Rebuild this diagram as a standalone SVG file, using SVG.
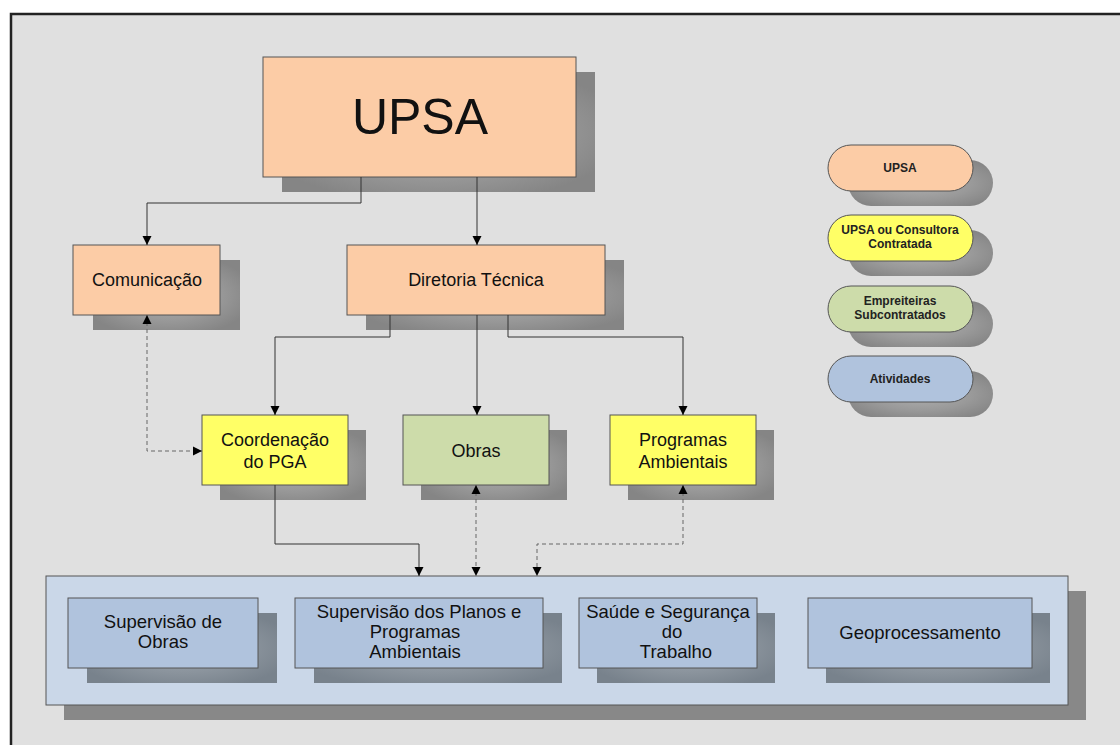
<svg xmlns="http://www.w3.org/2000/svg" width="1120" height="745" viewBox="0 0 1120 745">
<defs>
<radialGradient id="sh" cx="0.5" cy="0.5" r="0.6">
<stop offset="0" stop-color="#b0b0b0"/>
<stop offset="0.6" stop-color="#999"/>
<stop offset="1" stop-color="#858585"/>
</radialGradient>
<radialGradient id="shb" cx="0.5" cy="0.5" r="0.6">
<stop offset="0" stop-color="#a3abb4"/>
<stop offset="0.6" stop-color="#8a939c"/>
<stop offset="1" stop-color="#78828c"/>
</radialGradient>
<marker id="ah" markerWidth="10" markerHeight="10" refX="9" refY="5" orient="auto" markerUnits="userSpaceOnUse">
<path d="M0,0.5 L9,5 L0,9.5 Z" fill="#000"/>
</marker>
<marker id="as" markerWidth="10" markerHeight="10" refX="0" refY="5" orient="auto" markerUnits="userSpaceOnUse">
<path d="M9,0.5 L0,5 L9,9.5 Z" fill="#000"/>
</marker>
</defs>
<style>
.box{stroke:#555;stroke-width:1}
.peach{fill:#fccca6}
.yel{fill:#ffff66}
.grn{fill:#cddcaa}
.blu{fill:#b0c3dd}
.sh{fill:url(#sh)}
.shb{fill:url(#shb)}
.t{font-family:"Liberation Sans",Arial,sans-serif;font-size:18px;fill:#111;text-anchor:middle}
.tb{font-family:"Liberation Sans",Arial,sans-serif;font-size:18.5px;fill:#111;text-anchor:middle}
.lg{font-family:"Liberation Sans",Arial,sans-serif;font-size:12px;font-weight:bold;fill:#222;text-anchor:middle}
.ln{fill:none;stroke:#333;stroke-width:1}
.dl{fill:none;stroke:#666;stroke-width:1;stroke-dasharray:4,3}
</style>
<rect x="0" y="0" width="1120" height="745" fill="#fff"/>
<rect x="11" y="14" width="1120" height="740" fill="#e0e0e0" stroke="#222" stroke-width="2.5"/>

<g id="upsa">
<rect class="sh" x="282" y="72" width="313" height="120"/>
<rect class="box peach" x="263" y="57" width="313" height="120"/>
<text x="420" y="134" class="t" style="font-size:50px">UPSA</text>
</g>
<g id="comunicacao">
<rect class="sh" x="93" y="260" width="147" height="70"/>
<rect class="box peach" x="73" y="245" width="147" height="70"/>
<text x="147" y="286" class="t">Comunicação</text>
</g>
<g id="diretoria">
<rect class="sh" x="366" y="260" width="258" height="70"/>
<rect class="box peach" x="347" y="245" width="258" height="70"/>
<text x="476" y="286" class="t">Diretoria Técnica</text>
</g>
<g id="coordenacao">
<rect class="sh" x="220" y="430" width="146" height="70"/>
<rect class="box yel" x="202" y="415" width="146" height="70"/>
<text x="275" y="446" class="t">Coordenação</text>
<text x="275" y="468" class="t">do PGA</text>
</g>
<g id="obras">
<rect class="sh" x="421" y="430" width="146" height="70"/>
<rect class="box grn" x="403" y="415" width="146" height="70"/>
<text x="476" y="457" class="t">Obras</text>
</g>
<g id="programas">
<rect class="sh" x="628" y="430" width="146" height="70"/>
<rect class="box yel" x="610" y="415" width="146" height="70"/>
<text x="683" y="446" class="t">Programas</text>
<text x="683" y="468" class="t">Ambientais</text>
</g>

<g id="atividades">
<rect x="64" y="591" width="1022" height="129" fill="#888"/>
<rect class="box" x="46" y="576" width="1022" height="129" fill="#cad7e8"/>
</g>
<g id="sup-obras">
<rect class="shb" x="87" y="613" width="190" height="70"/>
<rect class="box blu" x="68" y="598" width="190" height="70"/>
<text x="163" y="628" class="tb">Supervisão de</text>
<text x="163" y="648" class="tb">Obras</text>
</g>
<g id="sup-planos">
<rect class="shb" x="314" y="613" width="248" height="70"/>
<rect class="box blu" x="295" y="598" width="248" height="70"/>
<text x="419" y="618" class="tb">Supervisão dos Planos e</text>
<text x="415" y="638" class="tb">Programas</text>
<text x="415" y="658" class="tb">Ambientais</text>
</g>
<g id="saude">
<rect class="shb" x="597" y="613" width="178" height="70"/>
<rect class="box blu" x="579" y="598" width="178" height="70"/>
<text x="668" y="618" class="tb">Saúde e Segurança</text>
<text x="672" y="638" class="tb">do</text>
<text x="676" y="658" class="tb">Trabalho</text>
</g>
<g id="geo">
<rect class="shb" x="826" y="613" width="224" height="70"/>
<rect class="box blu" x="808" y="598" width="224" height="70"/>
<text x="920" y="639" class="tb">Geoprocessamento</text>
</g>

<g id="legend-upsa">
<rect class="sh" x="848" y="160" width="145" height="46" rx="23"/>
<rect class="box peach" x="828" y="145" width="145" height="46" rx="23"/>
<text x="900" y="172" class="lg">UPSA</text>
</g>
<g id="legend-consultora">
<rect class="sh" x="848" y="230" width="145" height="46" rx="23"/>
<rect class="box yel" x="828" y="215" width="145" height="46" rx="23"/>
<text x="900" y="234" class="lg">UPSA ou Consultora</text>
<text x="900" y="248" class="lg">Contratada</text>
</g>
<g id="legend-empreiteiras">
<rect class="sh" x="848" y="301" width="145" height="46" rx="23"/>
<rect class="box grn" x="828" y="286" width="145" height="46" rx="23"/>
<text x="900" y="305" class="lg">Empreiteiras</text>
<text x="900" y="319" class="lg">Subcontratados</text>
</g>
<g id="legend-atividades">
<rect class="sh" x="848" y="371" width="145" height="46" rx="23"/>
<rect class="box blu" x="828" y="356" width="145" height="46" rx="23"/>
<text x="900" y="383" class="lg">Atividades</text>
</g>

<g id="connectors">
<path class="ln" d="M361,177 V203 H147 V245" marker-end="url(#ah)"/>
<path class="ln" d="M477,177 V245" marker-end="url(#ah)"/>
<path class="ln" d="M390,315 V337 H275 V415" marker-end="url(#ah)"/>
<path class="ln" d="M477,315 V415" marker-end="url(#ah)"/>
<path class="ln" d="M508,315 V337 H683 V415" marker-end="url(#ah)"/>
<path class="dl" d="M147,315 V451 H202" marker-start="url(#as)" marker-end="url(#ah)"/>
<path class="ln" d="M275,485 V544 H419 V576" marker-end="url(#ah)"/>
<path class="dl" d="M476,485 V576" marker-start="url(#as)" marker-end="url(#ah)"/>
<path class="dl" d="M683,485 V544 H537 V576" marker-start="url(#as)" marker-end="url(#ah)"/>
</g>
</svg>
